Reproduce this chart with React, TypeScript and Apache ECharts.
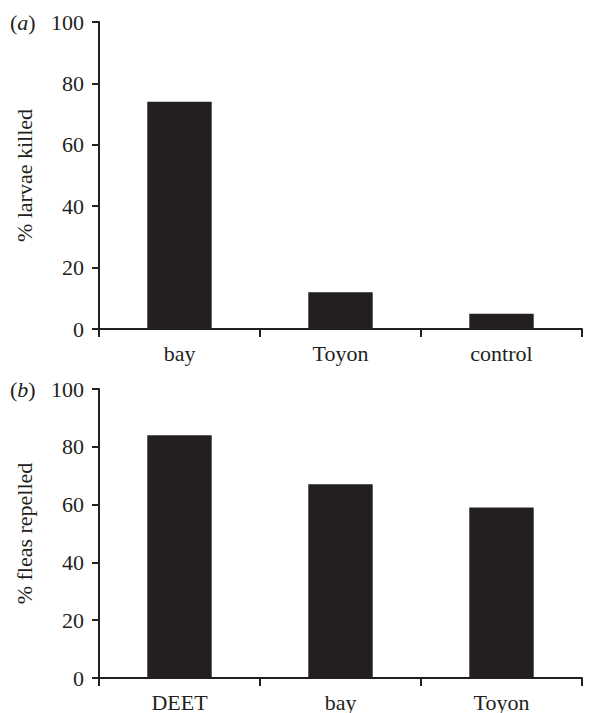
import React, { useEffect, useRef } from "react";
import * as echarts from "echarts";

const catsA = ["bay", "Toyon", "control"];
const valsA = [74, 12, 5];
const catsB = ["DEET", "bay", "Toyon"];
const valsB = [84, 67, 59];
const yTicks = [0, 20, 40, 60, 80, 100];

const INK = "#231f20";
const FONT = "'Liberation Serif', 'Times New Roman', serif";

export default function App() {
  const ref = useRef<HTMLDivElement>(null);
  useEffect(() => {
    document.body.style.margin = "0";
    const chart = echarts.init(ref.current!, null, { renderer: "svg" });
    const xAxisCommon = (cats: string[], gridIndex: number) => ({
      type: "category" as const,
      gridIndex,
      data: cats,
      axisLine: { lineStyle: { color: INK, width: 2 } },
      axisTick: { show: true, length: 8, lineStyle: { color: INK, width: 2 } },
      axisLabel: { color: INK, fontFamily: FONT, fontSize: 22, margin: 13 },
      splitLine: { show: false },
    });
    const yAxisCommon = (name: string, gridIndex: number) => ({
      type: "value" as const,
      gridIndex,
      min: yTicks[0],
      max: yTicks[yTicks.length - 1],
      interval: 20,
      name,
      nameLocation: "middle" as const,
      nameRotate: 90,
      nameGap: 64,
      nameTextStyle: { color: INK, fontFamily: FONT, fontSize: 22 },
      axisLine: { show: true, lineStyle: { color: INK, width: 2 } },
      axisTick: { show: true, length: 7, lineStyle: { color: INK, width: 2 } },
      axisLabel: { color: INK, fontFamily: FONT, fontSize: 22, margin: 15 },
      splitLine: { show: false },
    });
    const label = (letter: string, y: number) => ({
      type: "text" as const,
      left: 10,
      top: y,
      style: {
        text: `{p|(}{i|${letter}}{p|)}`,
        rich: {
          p: { fontFamily: FONT, fontSize: 22, fill: INK, color: INK },
          i: { fontFamily: FONT, fontSize: 22, fontStyle: "italic", fill: INK, color: INK },
        },
      },
    });
    chart.setOption({
      animation: false,
      backgroundColor: "#ffffff",
      grid: [
        { left: 99, top: 22, width: 483, height: 307 },
        { left: 99, top: 389, width: 483, height: 290 },
      ],
      xAxis: [xAxisCommon(catsA, 0), xAxisCommon(catsB, 1)],
      yAxis: [yAxisCommon("% larvae killed", 0), yAxisCommon("% fleas repelled", 1)],
      series: [
        {
          type: "bar",
          xAxisIndex: 0,
          yAxisIndex: 0,
          data: valsA,
          barWidth: "40%",
          itemStyle: { color: INK },
        },
        {
          type: "bar",
          xAxisIndex: 1,
          yAxisIndex: 1,
          data: valsB,
          barWidth: "40%",
          itemStyle: { color: INK },
        },
      ],
      graphic: [label("a", 11), label("b", 378)],
    });
    return () => chart.dispose();
  }, []);
  return <div ref={ref} style={{ width: 608, height: 713 }} />;
}
